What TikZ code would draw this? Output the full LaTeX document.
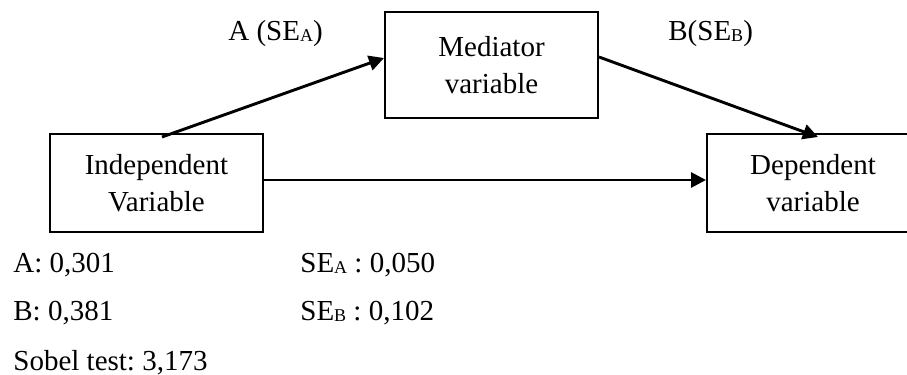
\documentclass[tikz,border=0pt]{standalone}
\usepackage{fontspec}
\setmainfont{Liberation Serif}
\usetikzlibrary{arrows.meta,calc}
\frenchspacing
\newcommand\subsc[1]{\raisebox{-0.6pt}{\fontsize{9}{9}\selectfont #1}}
\begin{document}
\begin{tikzpicture}[x=0.5pt,y=-0.5pt,
  box/.style={draw,line width=1pt,inner sep=0pt,align=center,font=\fontsize{14.5}{18.5}\selectfont},
  arr/.style={line width=1.45pt,-{Triangle[length=7.5pt,width=7.5pt]}},
  lbl/.style={anchor=base west,inner sep=0pt,font=\fontsize{14.5}{17}\selectfont}]
\clip (0,0) rectangle (907,375);
\node[box,minimum width=106.5pt,minimum height=49pt] (ind) at (156.5,183) {Independent\\Variable};
\node[box,minimum width=106.5pt,minimum height=53pt] (med) at (491.5,65) {Mediator\\variable};
\node[box,minimum width=106pt,minimum height=49pt] (dep) at (813,183) {Dependent\\variable};
\coordinate (a0) at ($(ind.north)+(5.5,4)$);
\coordinate (a1) at ($(med.west)+(0,-7)$);
\coordinate (b0) at ($(med.east)+(0,-8)$);
\coordinate (b1) at ($(dep.north)+(5,4)$);
\coordinate (c0) at ($(ind.east)+(0,-3)$);
\coordinate (c1) at ($(dep.west)+(0,-3)$);
\draw[arr] (a0) -- (a1);
\draw[arr] (b0) -- (b1);
\draw[arr] (c0) -- (c1);
\node[lbl] (la) at (228,40) {A (SE\subsc{A})};
\node[lbl] (lb) at (668,40) {B(SE\subsc{B})};
\node[lbl] (va) at (13,272) {A: 0,301};
\node[lbl] (sa) at (300,272) {SE\subsc{A} : 0,050};
\node[lbl] (vb) at (13,320) {B: 0,381};
\node[lbl] (sb) at (300,320) {SE\subsc{B} : 0,102};
\node[lbl] (sob) at (13,370) {Sobel test: 3,173};
\end{tikzpicture}
\end{document}
